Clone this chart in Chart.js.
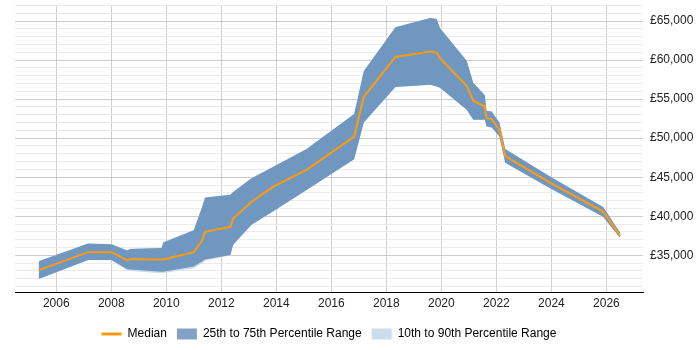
<!DOCTYPE html>
<html>
<head>
<meta charset="utf-8">
<script src="https://cdn.jsdelivr.net/npm/chart.js@4/dist/chart.umd.min.js"></script>
<style>
  html, body { margin: 0; padding: 0; background: #fff; }
  #wrap { width: 700px; height: 350px; }
</style>
</head>
<body>
<div id="wrap"><canvas id="salaryChart"></canvas></div>
<script>
const years = [2005.36, 2007.16, 2008.01, 2008.58, 2008.68, 2009.83, 2009.89, 2011.0, 2011.3, 2011.41,
  2012.33, 2012.43, 2013.1, 2013.89, 2015.1, 2016.83, 2017.18, 2018.33, 2019.59, 2019.83,
  2019.95, 2020.92, 2021.16, 2021.58, 2021.64, 2021.83, 2022.11, 2022.32, 2023.95, 2025.88, 2026.5];

const median = [33100, 35400, 35400, 34350, 34500, 34450, 34450, 35400, 36900, 38000,
  38650, 39700, 41850, 43800, 45950, 50200, 55300, 60400, 61100, 60950,
  60250, 56700, 54800, 54050, 52550, 52450, 51050, 47700, 44300, 40600, 37500];

const p75 = [34250, 36500, 36400, 35600, 35800, 35950, 36650, 38200, 41200, 42400,
  42750, 43100, 44850, 46350, 48600, 53100, 58600, 64200, 65400, 65250,
  64100, 59900, 57100, 55500, 53500, 53400, 52000, 48600, 45100, 41200, 37900];

const p25 = [31950, 34400, 34400, 33200, 33180, 32900, 32900, 33550, 34200, 34450,
  35050, 36350, 38900, 40650, 43350, 47300, 52000, 56550, 56850, 56600,
  56450, 53650, 52350, 52350, 51500, 51350, 50200, 46850, 43600, 39950, 37200];

const p90 = [34250, 36500, 36400, 35650, 35850, 36000, 36700, 38250, 41200, 42400,
  42750, 43100, 44850, 46350, 48600, 53100, 58600, 64200, 65400, 65250,
  64100, 59900, 57100, 55500, 53500, 53400, 52000, 48600, 45100, 41200, 37900];

const p10 = [31950, 34400, 34350, 33050, 33000, 32700, 32700, 33350, 33950, 34300,
  35000, 36350, 38900, 40650, 43350, 47300, 52000, 56550, 56850, 56600,
  56450, 53650, 52350, 52350, 51500, 51350, 50200, 46850, 43600, 39950, 37200];

const yTicks = [35000, 40000, 45000, 50000, 55000, 60000, 65000];
const xTicks = [2006, 2008, 2010, 2012, 2014, 2016, 2018, 2020, 2022, 2024, 2026];

const bandColor = "#7097bf";
const outerColor = "#cddcec";
const medianColor = "#ff9a0f";

function pts(values) {
  return years.map((yr, i) => ({ x: yr, y: values[i] }));
}

// minor grid every 1000, labels only every 5000
const yGrid = [];
for (let v = 31000; v <= 67000; v += 1000) yGrid.push(v);

Chart.defaults.font.family = "'Liberation Sans', Arial, sans-serif";
Chart.defaults.font.size = 12;
Chart.defaults.color = "#222";

new Chart(document.getElementById("salaryChart"), {
  type: "line",
  data: {
    datasets: [
      { label: "Median", data: pts(median), borderColor: medianColor, borderWidth: 2,
        pointRadius: 0, fill: false, tension: 0, order: 0 },
      { label: "p75", data: pts(p75), borderWidth: 0, pointRadius: 0, fill: false, order: 1 },
      { label: "25th to 75th Percentile Range", data: pts(p25), borderWidth: 0, pointRadius: 0,
        fill: "-1", backgroundColor: bandColor, order: 1 },
      { label: "p90", data: pts(p90), borderWidth: 0, pointRadius: 0, fill: false, order: 2 },
      { label: "10th to 90th Percentile Range", data: pts(p10), borderWidth: 0, pointRadius: 0,
        fill: "-1", backgroundColor: outerColor, order: 2 },
    ],
  },
  options: {
    responsive: true,
    maintainAspectRatio: false,
    animation: false,
    layout: { padding: { left: 15, right: 0, top: 5, bottom: 0 } },
    plugins: {
      tooltip: { enabled: false },
      legend: {
        position: "bottom",
        fullSize: false,
        labels: {
          usePointStyle: true,
          pointStyleWidth: 20,
          boxHeight: 11,
          padding: 10,
          generateLabels: () => [
            { text: "Median", pointStyle: "line", fillStyle: medianColor, strokeStyle: medianColor, lineWidth: 3, hidden: false },
            { text: "25th to 75th Percentile Range", pointStyle: "rect", fillStyle: "#84a3c4", strokeStyle: "#84a3c4", lineWidth: 0, hidden: false },
            { text: "10th to 90th Percentile Range", pointStyle: "rect", fillStyle: outerColor, strokeStyle: outerColor, lineWidth: 0, hidden: false },
          ],
        },
      },
    },
    scales: {
      x: {
        type: "linear",
        min: 2004.5,
        max: 2027.33,
        afterBuildTicks: scale => { scale.ticks = xTicks.map(v => ({ value: v })); },
        afterFit: scale => { scale.height = 26; },
        ticks: {
          autoSkip: false,
          callback: v => String(v),
          maxRotation: 0,
          padding: 4,
        },
        grid: { color: "#cfcfcf", drawTicks: false },
        border: { display: true, color: "#000", width: 1 },
      },
      y: {
        position: "right",
        min: 30300,
        max: 67050,
        afterBuildTicks: scale => { scale.ticks = yGrid.map(v => ({ value: v })); },
        afterFit: scale => { scale.width = 57; },
        ticks: {
          autoSkip: false,
          padding: 0,
          font: ctx => ({ size: ctx.tick && yTicks.includes(ctx.tick.value) ? 12 : 1 }),
          callback: v => (yTicks.includes(v) ? "£" + v.toLocaleString("en-GB") : ""),
        },
        grid: {
          color: ctx => (ctx.tick && ctx.tick.value % 5000 === 0 ? "#cccccc" : "#ebebeb"),
          drawTicks: true,
          tickLength: 7,
          tickColor: "rgba(0,0,0,0)",
        },
        border: { display: false },
      },
    },
  },
});
</script>
</body>
</html>
